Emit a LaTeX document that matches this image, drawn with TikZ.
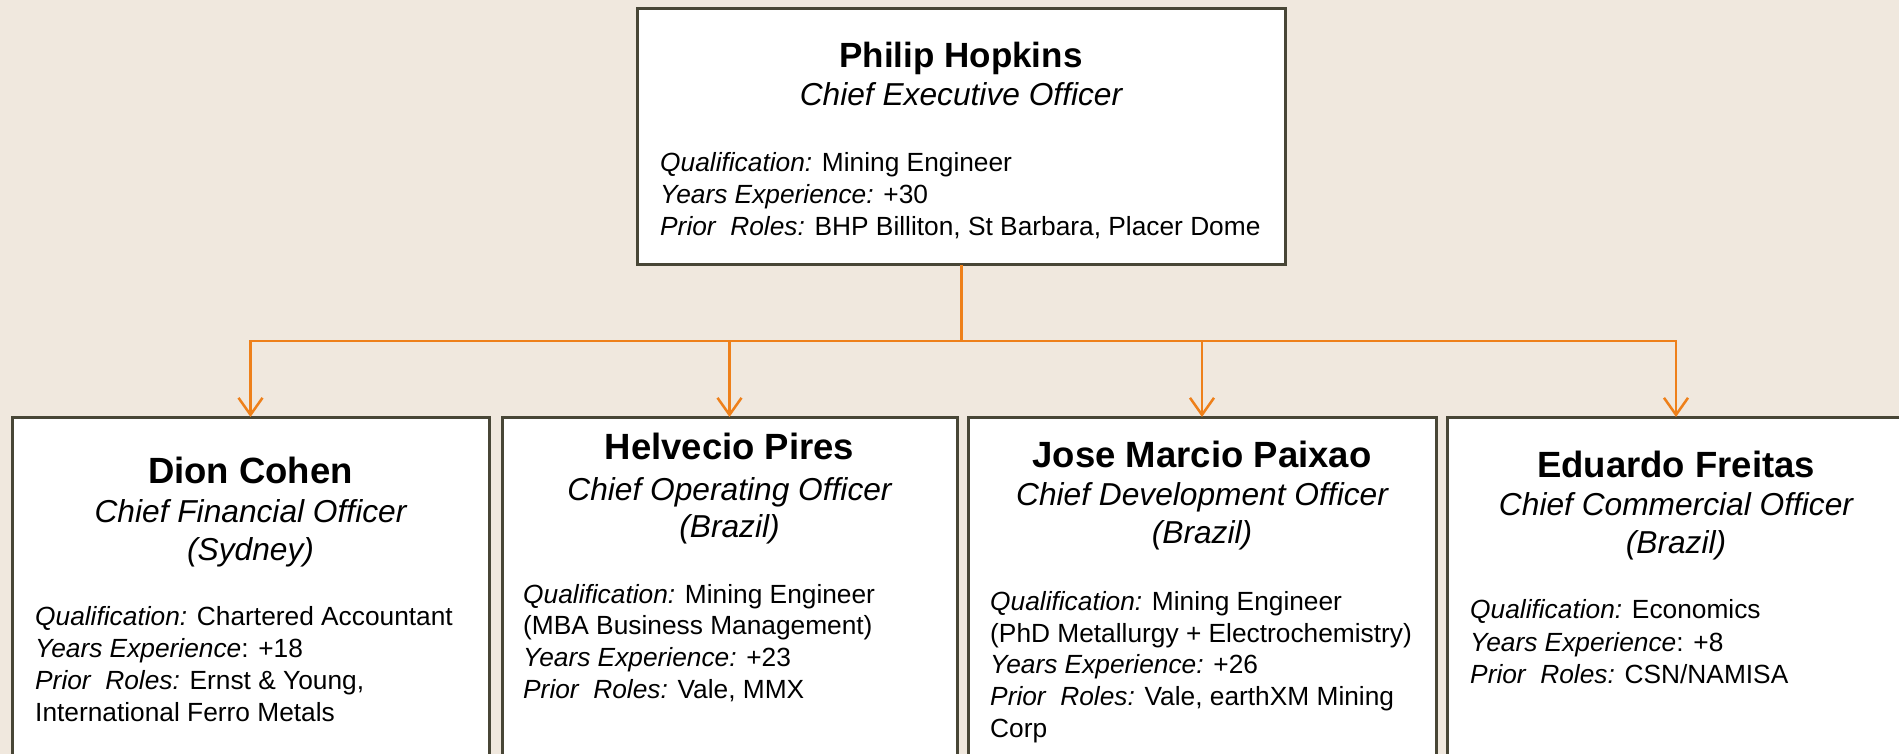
\documentclass[tikz,border=0pt]{standalone}
\usepackage{fontspec}
\setmainfont{Liberation Sans}
\usetikzlibrary{arrows.meta}
\definecolor{paper}{RGB}{240,232,222}
\definecolor{linkorange}{RGB}{238,128,26}
\definecolor{cardframe}{RGB}{72,70,54}
\begin{document}
\begin{tikzpicture}[x=1pt,y=-1pt,
  card/.style={draw=cardframe,line width=3pt,fill=white,rectangle,inner sep=0pt,outer sep=0pt,anchor=north west},
  personname/.style={font=\fontsize{36.5}{40}\selectfont\bfseries,anchor=base,inner sep=0pt},
  roletitle/.style={font=\fontsize{31.7}{38}\selectfont\itshape,anchor=base,inner sep=0pt},
  bodyline/.style={font=\fontsize{26.3}{32}\selectfont,anchor=base west,inner sep=0pt},
  link/.style={draw=linkorange,line width=2.5pt},
  tip/.style={-{Straight Barb[length=17pt,width=24pt]}}
]
% page and background
\useasboundingbox (0,0) rectangle (1899,754);
\clip (0,0) rectangle (1899,754);
\fill[paper] (0,0) rectangle (1899,754);

% cards
\node[card,minimum width=648pt,minimum height=256pt] (ceo) at (637,9) {};
\node[card,minimum width=477pt,minimum height=420pt] (cfo) at (12,417) {};
\node[card,minimum width=455pt,minimum height=420pt] (coo) at (502,417) {};
\node[card,minimum width=468pt,minimum height=420pt] (cdo) at (968,417) {};
\node[card,minimum width=458pt,minimum height=420pt] (cco) at (1447,417) {};

% reporting lines
\coordinate (bus) at (961,341);
\draw[link,line width=3pt] (ceo.south) -- (bus);
\draw[link,tip] (bus) -| (cfo.north);
\draw[link,tip] (bus) -| (coo.north);
\draw[link,tip] (bus) -| (cdo.north);
\draw[link,tip] (bus) -| (cco.north);

% chief executive
\node[personname,font=\fontsize{35}{40}\selectfont\bfseries] (ceoname) at (961,68) {Philip Hopkins};
\node[roletitle] (ceorole) at (961,106) {Chief Executive Officer};
\node[bodyline] (ceoa) at (660,172) {{\itshape Qualification:} Mining Engineer};
\node[bodyline] (ceob) at (660,204) {{\itshape Years Experience:} +30};
\node[bodyline] (ceoc) at (660,236) {{\itshape Prior\ \ Roles:} BHP Billiton, St Barbara, Placer Dome};

% chief financial
\node[personname] (cfoname) at (250.5,483) {Dion Cohen};
\node[roletitle] (cforole) at (250.5,522) {Chief Financial Officer};
\node[roletitle] (cfoloc) at (250.5,560) {(Sydney)};
\node[bodyline] (cfoa) at (35,625) {{\itshape Qualification:} Chartered Accountant};
\node[bodyline] (cfob) at (35,657) {{\itshape Years Experience}: +18};
\node[bodyline] (cfoc) at (35,689) {{\itshape Prior\ \ Roles:} Ernst \& Young,};
\node[bodyline] (cfod) at (35,721) {International Ferro Metals};

% chief operating
\node[personname] (cooname) at (729.5,459) {Helvecio Pires};
\node[roletitle] (coorole) at (729.5,500) {Chief Operating Officer};
\node[roletitle] (cooloc) at (729.5,537) {(Brazil)};
\node[bodyline] (cooa) at (523,603) {{\itshape Qualification:} Mining Engineer};
\node[bodyline] (coob) at (523,634) {(MBA Business Management)};
\node[bodyline] (cooc) at (523,666) {{\itshape Years Experience:} +23};
\node[bodyline] (cood) at (523,698) {{\itshape Prior\ \ Roles:} Vale, MMX};

% chief development
\node[personname] (cdoname) at (1202,467) {Jose Marcio Paixao};
\node[roletitle] (cdorole) at (1202,505) {Chief Development Officer};
\node[roletitle] (cdoloc) at (1202,543) {(Brazil)};
\node[bodyline] (cdoa) at (990,610) {{\itshape Qualification:} Mining Engineer};
\node[bodyline] (cdob) at (990,642) {(PhD Metallurgy + Electrochemistry)};
\node[bodyline] (cdoc) at (990,673) {{\itshape Years Experience:} +26};
\node[bodyline] (cdod) at (990,705) {{\itshape Prior\ \ Roles:} Vale, earthXM Mining};
\node[bodyline] (cdoe) at (990,737) {Corp};

% chief commercial
\node[personname] (cconame) at (1676,477) {Eduardo Freitas};
\node[roletitle] (ccorole) at (1676,515) {Chief Commercial Officer};
\node[roletitle] (ccoloc) at (1676,553) {(Brazil)};
\node[bodyline] (ccoa) at (1470,618) {{\itshape Qualification:} Economics};
\node[bodyline] (ccob) at (1470,651) {{\itshape Years Experience}: +8};
\node[bodyline] (ccoc) at (1470,683) {{\itshape Prior\ \ Roles:} CSN/NAMISA};
\end{tikzpicture}
\end{document}
